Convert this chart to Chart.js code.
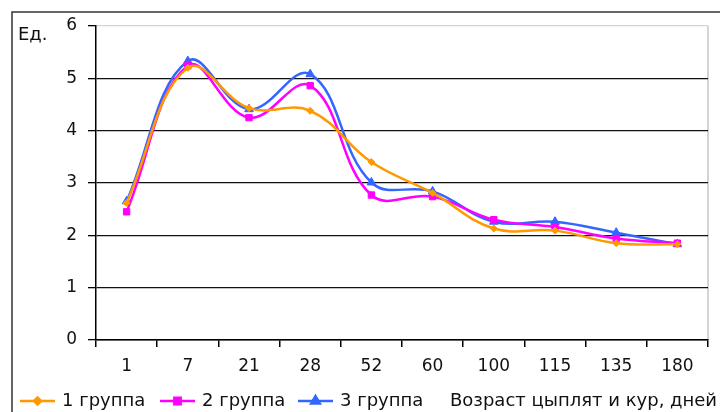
<!DOCTYPE html>
<html>
<head>
<meta charset="utf-8">
<script src="https://cdn.jsdelivr.net/npm/chart.js@4/dist/chart.umd.min.js"></script>
<style>
  html, body { margin: 0; padding: 0; background: #fff; }
  #wrap { width: 720px; height: 412px; position: relative; }
</style>
</head>
<body>
<div id="wrap"><canvas id="ageChart" width="720" height="412"></canvas></div>
<script>
  // данные
  const categories = ['1', '7', '21', '28', '52', '60', '100', '115', '135', '180'];
  const group1 = [2.62, 5.20, 4.43, 4.38, 3.40, 2.81, 2.13, 2.09, 1.85, 1.83];
  const group2 = [2.45, 5.24, 4.25, 4.86, 2.77, 2.74, 2.30, 2.16, 1.94, 1.85];
  const group3 = [2.65, 5.33, 4.41, 5.08, 3.01, 2.84, 2.26, 2.26, 2.05, 1.83];
  const seriesLabels = ['1 группа', '2 группа', '3 группа'];
  const yMin = 0;
  const yMax = 6;
  const axisTitle = 'Возраст цыплят и кур, дней';
  const unitLabel = 'Ед.';

  Chart.defaults.font.family = '"DejaVu Sans", sans-serif';
  Chart.defaults.font.size = 17;
  Chart.defaults.color = '#111';

  const series = [
    { label: seriesLabels[0], data: group1, color: '#ff9900', style: 'rectRot', r: 3.5 },
    { label: seriesLabels[1], data: group2, color: '#ff00ff', style: 'rect', r: 4.5 },
    { label: seriesLabels[2], data: group3, color: '#3366ff', style: 'triangle', r: 5 },
  ];

  // рамка, подпись "Ед." и легенда
  const extras = {
    id: 'extras',
    beforeDraw(chart) {
      const ctx = chart.ctx;
      ctx.save();
      ctx.strokeStyle = '#333';
      ctx.lineWidth = 1.5;
      ctx.beginPath();
      ctx.moveTo(12, 412);
      ctx.lineTo(12, 12);
      ctx.lineTo(720, 12);
      ctx.stroke();
      const a = chart.chartArea;
      ctx.strokeStyle = '#d4d4d4';
      ctx.lineWidth = 2;
      ctx.beginPath();
      ctx.moveTo(a.right, a.top);
      ctx.lineTo(a.right, a.bottom);
      ctx.stroke();
      ctx.restore();
    },
    afterDraw(chart) {
      const ctx = chart.ctx;
      ctx.save();
      ctx.font = '18px "DejaVu Sans"';
      ctx.fillStyle = '#111';
      ctx.textBaseline = 'middle';
      ctx.fillText(unitLabel, 18, 35);
      const y = 401;
      const xs = [20, 160, 298];
      series.forEach((s, i) => {
        const x0 = xs[i];
        ctx.strokeStyle = s.color;
        ctx.lineWidth = 2.5;
        ctx.beginPath();
        ctx.moveTo(x0, y);
        ctx.lineTo(x0 + 35, y);
        ctx.stroke();
        ctx.fillStyle = s.color;
        Chart.helpers.drawPoint(ctx, { pointStyle: s.style, radius: s.r, borderWidth: 1 }, x0 + 17.5, y);
        ctx.fillStyle = '#111';
        ctx.fillText(s.label, x0 + 42, y);
      });
      ctx.fillText(axisTitle, 450, y);
      ctx.restore();
    }
  };

  new Chart(document.getElementById('ageChart'), {
    type: 'line',
    data: {
      labels: categories,
      datasets: series.map(s => ({
        label: s.label,
        data: s.data,
        borderColor: s.color,
        backgroundColor: s.color,
        borderWidth: 2.5,
        pointStyle: s.style,
        pointRadius: s.r,
        pointBorderWidth: 1,
        tension: 0.4,
      }))
    },
    options: {
      responsive: false,
      animation: false,
      layout: { padding: { left: 0, right: 12, top: 26, bottom: 0 } },
      plugins: { legend: { display: false }, tooltip: { enabled: false } },
      scales: {
        x: {
          offset: true,
          grid: { offset: true, drawOnChartArea: false, tickLength: 7, color: '#000', lineWidth: 1.5 },
          border: { color: '#000', width: 1.5 },
          ticks: { padding: 9, maxRotation: 0 },
          afterFit(scale) { scale.height = 72; }
        },
        y: {
          min: yMin,
          max: yMax,
          ticks: { stepSize: 1, padding: 11 },
          grid: {
            tickLength: 8,
            tickColor: '#000',
            lineWidth: 1.3,
            color: c => (c.tick && c.tick.value === yMax) ? '#d4d4d4' : '#111'
          },
          border: { color: '#000', width: 1.5 },
          afterFit(scale) { scale.width = 96; }
        }
      }
    },
    plugins: [extras]
  });
</script>
</body>
</html>
